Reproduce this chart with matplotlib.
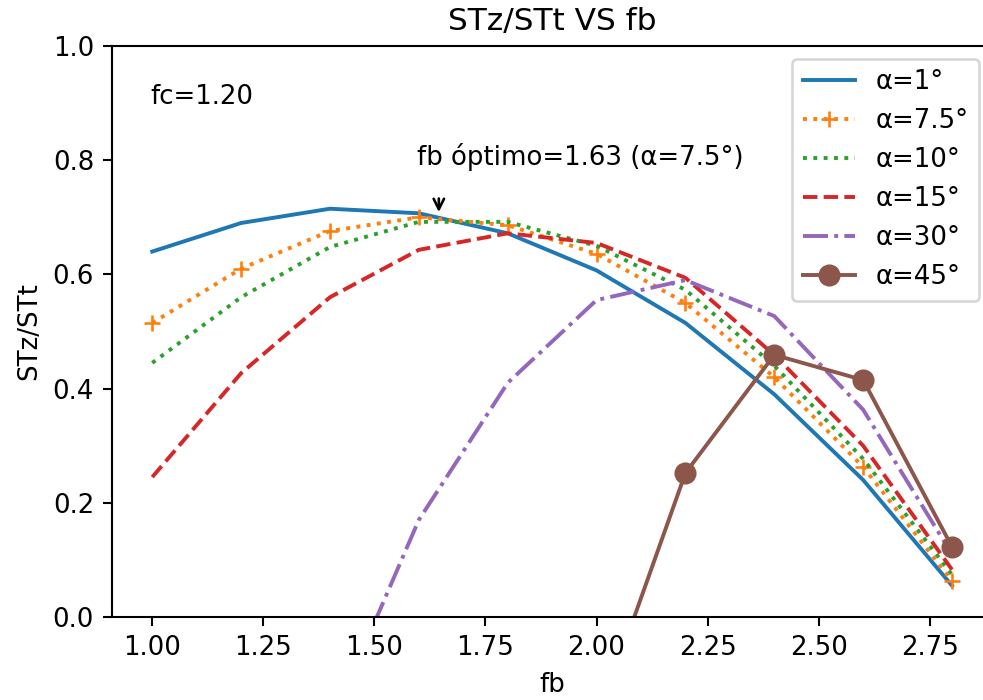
import matplotlib
matplotlib.use("Agg")
import matplotlib.pyplot as plt

fb = [1.0, 1.2, 1.4, 1.6, 1.8, 2.0, 2.2, 2.4, 2.6, 2.8]
a1 = [0.640, 0.690, 0.715, 0.707, 0.672, 0.607, 0.515, 0.390, 0.240, 0.055]
a75 = [0.515, 0.610, 0.676, 0.700, 0.686, 0.636, 0.550, 0.420, 0.263, 0.063]
a10 = [0.445, 0.560, 0.648, 0.692, 0.692, 0.650, 0.573, 0.440, 0.277, 0.074]
a15 = [0.245, 0.427, 0.560, 0.643, 0.672, 0.655, 0.594, 0.459, 0.300, 0.083]
fb30 = [1.4, 1.6, 1.8, 2.0, 2.2, 2.4, 2.6, 2.8]
a30 = [-0.19, 0.170, 0.410, 0.555, 0.590, 0.527, 0.363, 0.110]
fb45 = [2.0, 2.2, 2.4, 2.6, 2.8]
a45 = [-0.186, 0.252, 0.459, 0.415, 0.123]
labels = ["α=1°", "α=7.5°", "α=10°", "α=15°", "α=30°", "α=45°"]

DPI = 187.2
fig = plt.figure(figsize=(984 / DPI, 700 / DPI), dpi=DPI)
ax = fig.add_axes([0.1141, 0.1186, 0.894, 0.8157])

ax.plot(fb, a1, '-', color='C0', label=labels[0])
ax.plot(fb, a75, ':', color='C1', marker='+', label=labels[1])
ax.plot(fb, a10, ':', color='C2', label=labels[2])
ax.plot(fb, a15, '--', color='C3', label=labels[3])
ax.plot(fb30, a30, '-.', color='C4', label=labels[4])
ax.plot(fb45, a45, '-', color='C5', marker='o', markersize=7.5, label=labels[5])

ax.set_ylim(0, 1.0)
ax.set_title("STz/STt VS fb")
ax.set_xlabel("fb")
ax.set_ylabel("STz/STt")
ax.legend(loc='upper right')

ax.text(0.996, 0.911, "fc=1.20", va='center', ha='left')
ax.text(1.595, 0.806, "fb óptimo=1.63 (α=7.5°)", va='center', ha='left')
ax.annotate('', xy=(1.645, 0.700), xytext=(1.645, 0.742),
            arrowprops=dict(arrowstyle='->', color='k', lw=1.0))

fig.savefig("out.png", dpi=DPI)
